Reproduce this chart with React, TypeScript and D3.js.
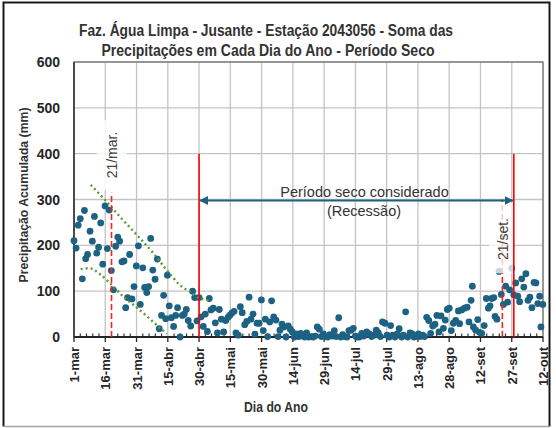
import * as d3 from 'd3';

// x = days since 1-mar, y = accumulated precipitation (mm)
const xTickLabels = [
  '1-mar', '16-mar', '31-mar', '15-abr', '30-abr', '15-mai', '30-mai', '14-jun',
  '29-jun', '14-jul', '29-jul', '13-ago', '28-ago', '12-set', '27-set', '12-out',
];
const yTicks = [0, 100, 200, 300, 400, 500, 600];

const pointsMarApr: [number, number][] = [
  [0, 210], [1, 194], [2, 244], [3, 258], [4, 127], [5, 276], [5.6, 171], [6.5, 180],
  [7.7, 231], [8.8, 209], [9.8, 263], [10.9, 183], [11.8, 196], [12.8, 249], [13.8, 159],
  [14.9, 286], [16, 193], [16.9, 277], [17.9, 145], [18.9, 103], [20, 198], [21, 218],
  [21.9, 209], [23, 164], [24, 166], [24.8, 64], [25.7, 86], [26.7, 180], [27.8, 83],
  [28.8, 110], [29.9, 155], [30.9, 199], [31.8, 71], [33, 151], [33.9, 108], [34.9, 97],
  [35.8, 110], [36.8, 215], [37.8, 146], [38.9, 126], [40, 170], [40.9, 18], [42, 47],
  [43, 91], [44, 40], [44.8, 135], [45.7, 68], [46.7, 42], [47.8, 23], [48.8, 47],
  [49.7, 64], [50.9, 0], [52, 47], [52.9, 50], [53.9, 60], [54.8, 36], [56, 24],
  [56.9, 100], [57.9, 86], [59, 35], [60, 86], [61, 44], [62, 23], [63, 50], [64, 12],
  [64.9, 84],
];

const pointsMayJul: [number, number][] = [
  [65.7, 59], [66.8, 63], [67.8, 31], [68.8, 9], [69.7, 60], [70.7, 39], [71.8, 11],
  [72.8, 36], [73.9, 43], [74.7, 47], [75.7, 52], [76.8, 56], [77.7, 9], [78.8, 4],
  [79.8, 66], [80.7, 53], [81.9, 27], [82.9, 34], [84, 87], [84.9, 39], [85.9, 50],
  [86.8, 6], [87.8, 30], [88.8, 30], [89.9, 81], [90.8, 14], [91.8, 39], [92.9, 1],
  [93.9, 33], [94.8, 79], [95.8, 44], [96.9, 37], [97.9, 1], [98.8, 15], [99.8, 28],
  [100.7, 22], [101.7, 0], [102.8, 24], [103.8, 17], [104.7, 11], [105.7, 0], [106.7, 7],
  [107.8, 1], [108.8, 8], [109.7, 2], [110.7, 0], [111.6, 9], [112.6, 0], [113.7, 1],
  [114.7, 0], [115.6, 2], [116.7, 22], [117.7, 17], [118.7, 1], [119.6, 7], [120.7, 1],
  [121.7, 0], [122.7, 5], [123.8, 2], [124.9, 14], [125.8, 1], [127, 42], [128, 0],
  [128.9, 5], [129.9, 1], [131, 0], [131.9, 14], [132.9, 15], [134, 19], [135, 2],
  [135.9, 0], [136.9, 0],
];

const pointsJulSep: [number, number][] = [
  [138, 8], [139, 2], [140.4, 11], [141.7, 7], [142.8, 1], [144, 4], [145, 15], [146, 9],
  [147, 1], [148, 33], [149.2, 30], [150.2, 4], [151.3, 0], [151.9, 25], [152.9, 4],
  [154, 0], [155.1, 7], [156, 18], [157.2, 0], [158, 4], [159.1, 55], [160.1, 0],
  [161.2, 9], [162.2, 7], [163.1, 0], [164.1, 1], [165.2, 7], [166.1, 1], [167.3, 4],
  [168.2, 1], [169.2, 43], [170.2, 36], [171.1, 8], [172.1, 24], [173.2, 28], [174.1, 47],
  [175.1, 11], [176.1, 46], [177.2, 19], [178.1, 37], [179.1, 60], [180, 63], [181, 14],
  [182, 30],
];

const pointsSepOct: [number, number][] = [
  [183.1, 36], [184.4, 57], [185, 29], [186, 59], [187.3, 63], [188.6, 65], [189.5, 33],
  [190.5, 80], [191.1, 111], [191.6, 22], [192.7, 15], [193.7, 38], [194.6, 10],
  [195.6, 8], [196.8, 25], [197.8, 84], [198.8, 63], [199.6, 68], [200.4, 84], [201.4, 86],
  [202, 45], [202.9, 39], [203.9, 143], [205, 93], [206, 71], [207.1, 111], [208, 76],
  [209, 103], [210, 150], [211, 92], [211.9, 118], [212.9, 89], [213.8, 77], [214.8, 127],
  [215.8, 109], [216.8, 138], [217.8, 80], [218.7, 87], [219.7, 64], [220.7, 119],
  [221.6, 118], [222.5, 73], [223.4, 89], [224, 22], [224.9, 71],
];

const upperTrend: [number, number][] = [
  [8, 332], [14.9, 299], [22.1, 262], [30.1, 223], [38, 183], [44.5, 146], [50.9, 113],
  [55.6, 99], [60.4, 84], [66, 80],
];
const lowerTrend: [number, number][] = [
  [3.2, 148], [7.3, 150], [12.5, 137], [18.9, 110], [23.7, 88], [28.5, 70], [33.3, 52],
  [38, 33], [44.5, 7],
];

const dryStart = 60;
const dryEnd = 211;
const arrowLevel = 300;
const redTop = 400;
const marDay = 18;
const setDay = 205.5;

const W = 556;
const H = 428;
const margin = { top: 62, right: 13, bottom: 91, left: 74 };

const x = d3.scaleLinear().domain([0, 225]).range([margin.left, W - margin.right]);
const y = d3.scaleLinear().domain([0, 600]).range([H - margin.bottom, margin.top]);

const allPoints = [...pointsMarApr, ...pointsMayJul, ...pointsJulSep, ...pointsSepOct];

const trendLine = d3
  .line<[number, number]>()
  .x((d) => x(d[0]))
  .y((d) => y(d[1]))
  .curve(d3.curveMonotoneX);

const boldFont = '"Liberation Sans", Arial, sans-serif';
const narrowFont = '"Liberation Sans Narrow", "Liberation Sans", Arial, sans-serif';
const dotColor = '#1d6282';
const textColor = '#333333';

export default function App() {
  const majorDays = xTickLabels.map((_, i) => i * 15);
  const minorDays = d3.range(0, 226, 3).filter((d) => d % 15 !== 0);
  const x0 = x.range()[0];
  const x1 = x.range()[1];
  const y0 = y.range()[0];
  const y1 = y.range()[1];

  return (
    <div style={{ position: 'absolute', left: 0, top: 0 }}>
      <svg width={W} height={H} style={{ display: 'block', background: '#fff' }}>
        <defs>
          <marker id="arrowHead" viewBox="0 0 10 10" refX="9" refY="5" markerWidth="4" markerHeight="4" orient="auto-start-reverse">
            <path d="M0,0 L10,5 L0,10 z" fill={dotColor} />
          </marker>
        </defs>

        {/* chart frame */}
        <path d={`M3.5,426.5 V2.5 H549.5 V426.5`} fill="none" stroke="#1a1a1a" strokeWidth={2} />
        <line x1={3.5} x2={549.5} y1={426.5} y2={426.5} stroke="#a6a6a6" strokeWidth={1.5} />

        {/* title */}
        <text x={266} y={36} textAnchor="middle" fontFamily={narrowFont} fontWeight="bold" fontSize={16} fill={textColor} textLength={374} lengthAdjust="spacingAndGlyphs">
          {'Faz. Água Limpa - Jusante -  Estação 2043056 - Soma das'}
        </text>
        <text x={268} y={56} textAnchor="middle" fontFamily={narrowFont} fontWeight="bold" fontSize={16} fill={textColor} textLength={333} lengthAdjust="spacingAndGlyphs">
          Precipitações em Cada Dia do Ano - Período Seco
        </text>

        {/* grid */}
        {yTicks.filter((v) => v > 0).map((v) => (
          <line key={'gy' + v} x1={x0} x2={x1} y1={y(v)} y2={y(v)} stroke="#c4c4c4" strokeWidth={1.3} />
        ))}
        {majorDays.filter((d) => d > 0).map((d) => (
          <line key={'gx' + d} x1={x(d)} x2={x(d)} y1={y0} y2={y1} stroke="#c4c4c4" strokeWidth={1.3} />
        ))}
        <rect x={x0} y={y1} width={x1 - x0} height={y0 - y1} fill="none" stroke="#595959" strokeWidth={1} />

        {/* axes */}
        <line x1={x0} x2={x0} y1={y1} y2={y0} stroke="#404040" strokeWidth={1.8} />
        <line x1={x0} x2={x1} y1={y0} y2={y0} stroke="#262626" strokeWidth={1.8} />
        {majorDays.map((d) => (
          <line key={'mt' + d} x1={x(d)} x2={x(d)} y1={y0} y2={y0 + 5} stroke="#262626" strokeWidth={1.3} />
        ))}
        {minorDays.map((d) => (
          <line key={'nt' + d} x1={x(d)} x2={x(d)} y1={y0} y2={y0 - 3.5} stroke="#262626" strokeWidth={1.1} />
        ))}
        {yTicks.map((v) => (
          <text key={'yl' + v} x={60} y={y(v)} textAnchor="end" dominantBaseline="central" fontFamily={boldFont} fontWeight="bold" fontSize={14} fill="#262626">
            {v}
          </text>
        ))}
        {xTickLabels.map((t, i) => (
          <text key={'xl' + t} transform={`translate(${x(majorDays[i]) + 0.5},${y0 + 10}) rotate(-90)`} textAnchor="end" dominantBaseline="central" fontFamily={boldFont} fontWeight="bold" fontSize={13} fill="#262626">
            {t}
          </text>
        ))}
        <text transform={`translate(24,195) rotate(-90)`} textAnchor="middle" dominantBaseline="central" fontFamily={boldFont} fontWeight="bold" fontSize={12.5} fill={textColor} textLength={175} lengthAdjust="spacingAndGlyphs">
          Precipitação Acumulada (mm)
        </text>
        <text x={276} y={412} textAnchor="middle" fontFamily={boldFont} fontWeight="bold" fontSize={14} fill={textColor} textLength={64} lengthAdjust="spacingAndGlyphs">
          Dia do Ano
        </text>

        {/* scatter */}
        {allPoints.map((p, i) => (
          <circle key={'p' + i} cx={x(p[0])} cy={y(Math.max(0, p[1]))} r={3.4} fill={dotColor} />
        ))}

        {/* trend envelopes */}
        <path d={trendLine(upperTrend) ?? ''} fill="none" stroke="#5b9a35" strokeWidth={2.4} strokeDasharray="2 3" />
        <path d={trendLine(lowerTrend) ?? ''} fill="none" stroke="#5b9a35" strokeWidth={2.4} strokeDasharray="2 3" />

        {/* equinox markers */}
        <line x1={x(marDay)} x2={x(marDay)} y1={y0} y2={y(315)} stroke="#ff2020" strokeWidth={1.6} strokeDasharray="6 3" />
        <line x1={x(setDay)} x2={x(setDay)} y1={y0} y2={y(300)} stroke="#ff2020" strokeWidth={1.6} strokeDasharray="6 3" />
        <rect x={x(11)} y={y(473)} width={x(25.4) - x(11)} height={y(321) - y(473)} fill="#fff" opacity={0.85} />
        <rect x={x(199)} y={y(292)} width={x(210.6) - x(199)} height={y(139) - y(292)} fill="#fff" opacity={0.75} />
        <text transform={`translate(${x(marDay)},155) rotate(-90)`} textAnchor="middle" dominantBaseline="central" fontFamily={boldFont} fontSize={14} fill="#404040">
          21/mar.
        </text>
        <text transform={`translate(${x(setDay) + 0.7},239) rotate(-90)`} textAnchor="middle" dominantBaseline="central" fontFamily={boldFont} fontSize={14} fill="#404040">
          21/set.
        </text>

        {/* dry period limits */}
        <line x1={x(dryStart)} x2={x(dryStart)} y1={y0} y2={y(redTop)} stroke="#ff0000" strokeWidth={1.6} />
        <line x1={x(dryEnd)} x2={x(dryEnd)} y1={y0} y2={y(redTop)} stroke="#ff0000" strokeWidth={1.6} />
        <line x1={x(dryStart) + 1} x2={x(dryEnd) - 1} y1={y(arrowLevel) + 1} y2={y(arrowLevel) + 1} stroke={dotColor} strokeWidth={2.2} markerStart="url(#arrowHead)" markerEnd="url(#arrowHead)" />
        <text x={364.5} y={197} textAnchor="middle" fontFamily={boldFont} fontSize={14.5} fill="#333">
          Período seco considerado
        </text>
        <text x={364} y={216} textAnchor="middle" fontFamily={boldFont} fontSize={14.5} fill="#333">
          (Recessão)
        </text>
      </svg>
    </div>
  );
}
